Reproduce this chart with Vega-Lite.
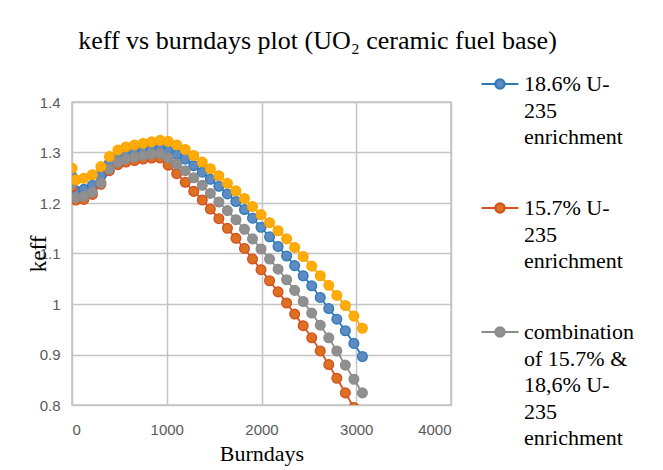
{
  "$schema": "https://vega.github.io/schema/vega-lite/v6.json",
  "width": 379,
  "height": 303,
  "autosize": {"type": "none"},
  "padding": {"left": 72, "top": 102, "right": 212, "bottom": 65},
  "background": "white",
  "title": {"text": "keff vs burndays plot (UO₂ ceramic fuel base)", "font": "Times New Roman", "fontSize": 26, "fontWeight": "normal"},
  "datasets": {
    "pts": [
      {"series": "18.6% U-235 enrichment", "day": 0, "k": 1.253}, {"series": "18.6% U-235 enrichment", "day": 40, "k": 1.224}, {"series": "18.6% U-235 enrichment", "day": 125, "k": 1.227}, {"series": "18.6% U-235 enrichment", "day": 215, "k": 1.235}, {"series": "18.6% U-235 enrichment", "day": 305, "k": 1.254}, {"series": "18.6% U-235 enrichment", "day": 395, "k": 1.279}, {"series": "18.6% U-235 enrichment", "day": 485, "k": 1.291}, {"series": "18.6% U-235 enrichment", "day": 570, "k": 1.297}, {"series": "18.6% U-235 enrichment", "day": 660, "k": 1.301}, {"series": "18.6% U-235 enrichment", "day": 750, "k": 1.304}, {"series": "18.6% U-235 enrichment", "day": 840, "k": 1.307}, {"series": "18.6% U-235 enrichment", "day": 930, "k": 1.308}, {"series": "18.6% U-235 enrichment", "day": 1015, "k": 1.303}, {"series": "18.6% U-235 enrichment", "day": 1105, "k": 1.296}, {"series": "18.6% U-235 enrichment", "day": 1195, "k": 1.287}, {"series": "18.6% U-235 enrichment", "day": 1285, "k": 1.274}, {"series": "18.6% U-235 enrichment", "day": 1375, "k": 1.261}, {"series": "18.6% U-235 enrichment", "day": 1460, "k": 1.247}, {"series": "18.6% U-235 enrichment", "day": 1550, "k": 1.233}, {"series": "18.6% U-235 enrichment", "day": 1640, "k": 1.218}, {"series": "18.6% U-235 enrichment", "day": 1730, "k": 1.203}, {"series": "18.6% U-235 enrichment", "day": 1820, "k": 1.187}, {"series": "18.6% U-235 enrichment", "day": 1905, "k": 1.170}, {"series": "18.6% U-235 enrichment", "day": 1995, "k": 1.152}, {"series": "18.6% U-235 enrichment", "day": 2085, "k": 1.133}, {"series": "18.6% U-235 enrichment", "day": 2175, "k": 1.114}, {"series": "18.6% U-235 enrichment", "day": 2265, "k": 1.095}, {"series": "18.6% U-235 enrichment", "day": 2350, "k": 1.076}, {"series": "18.6% U-235 enrichment", "day": 2440, "k": 1.056}, {"series": "18.6% U-235 enrichment", "day": 2530, "k": 1.036}, {"series": "18.6% U-235 enrichment", "day": 2620, "k": 1.013}, {"series": "18.6% U-235 enrichment", "day": 2710, "k": 0.991}, {"series": "18.6% U-235 enrichment", "day": 2795, "k": 0.970}, {"series": "18.6% U-235 enrichment", "day": 2885, "k": 0.947}, {"series": "18.6% U-235 enrichment", "day": 2975, "k": 0.922}, {"series": "18.6% U-235 enrichment", "day": 3065, "k": 0.896},
      {"series": "15.7% U-235 enrichment", "day": 0, "k": 1.232}, {"series": "15.7% U-235 enrichment", "day": 40, "k": 1.206}, {"series": "15.7% U-235 enrichment", "day": 125, "k": 1.207}, {"series": "15.7% U-235 enrichment", "day": 215, "k": 1.217}, {"series": "15.7% U-235 enrichment", "day": 305, "k": 1.237}, {"series": "15.7% U-235 enrichment", "day": 395, "k": 1.264}, {"series": "15.7% U-235 enrichment", "day": 485, "k": 1.276}, {"series": "15.7% U-235 enrichment", "day": 570, "k": 1.281}, {"series": "15.7% U-235 enrichment", "day": 660, "k": 1.284}, {"series": "15.7% U-235 enrichment", "day": 750, "k": 1.287}, {"series": "15.7% U-235 enrichment", "day": 840, "k": 1.289}, {"series": "15.7% U-235 enrichment", "day": 930, "k": 1.289}, {"series": "15.7% U-235 enrichment", "day": 1015, "k": 1.275}, {"series": "15.7% U-235 enrichment", "day": 1105, "k": 1.258}, {"series": "15.7% U-235 enrichment", "day": 1195, "k": 1.241}, {"series": "15.7% U-235 enrichment", "day": 1285, "k": 1.223}, {"series": "15.7% U-235 enrichment", "day": 1375, "k": 1.206}, {"series": "15.7% U-235 enrichment", "day": 1460, "k": 1.188}, {"series": "15.7% U-235 enrichment", "day": 1550, "k": 1.169}, {"series": "15.7% U-235 enrichment", "day": 1640, "k": 1.150}, {"series": "15.7% U-235 enrichment", "day": 1730, "k": 1.130}, {"series": "15.7% U-235 enrichment", "day": 1820, "k": 1.110}, {"series": "15.7% U-235 enrichment", "day": 1905, "k": 1.089}, {"series": "15.7% U-235 enrichment", "day": 1995, "k": 1.068}, {"series": "15.7% U-235 enrichment", "day": 2085, "k": 1.046}, {"series": "15.7% U-235 enrichment", "day": 2175, "k": 1.024}, {"series": "15.7% U-235 enrichment", "day": 2265, "k": 1.002}, {"series": "15.7% U-235 enrichment", "day": 2350, "k": 0.980}, {"series": "15.7% U-235 enrichment", "day": 2440, "k": 0.957}, {"series": "15.7% U-235 enrichment", "day": 2530, "k": 0.933}, {"series": "15.7% U-235 enrichment", "day": 2620, "k": 0.907}, {"series": "15.7% U-235 enrichment", "day": 2710, "k": 0.880}, {"series": "15.7% U-235 enrichment", "day": 2795, "k": 0.853}, {"series": "15.7% U-235 enrichment", "day": 2885, "k": 0.824}, {"series": "15.7% U-235 enrichment", "day": 2975, "k": 0.795}, {"series": "15.7% U-235 enrichment", "day": 3065, "k": 0.764},
      {"series": "combination of 15.7% & 18,6% U-235 enrichment", "day": 0, "k": 1.238}, {"series": "combination of 15.7% & 18,6% U-235 enrichment", "day": 40, "k": 1.211}, {"series": "combination of 15.7% & 18,6% U-235 enrichment", "day": 125, "k": 1.213}, {"series": "combination of 15.7% & 18,6% U-235 enrichment", "day": 215, "k": 1.222}, {"series": "combination of 15.7% & 18,6% U-235 enrichment", "day": 305, "k": 1.240}, {"series": "combination of 15.7% & 18,6% U-235 enrichment", "day": 395, "k": 1.267}, {"series": "combination of 15.7% & 18,6% U-235 enrichment", "day": 485, "k": 1.281}, {"series": "combination of 15.7% & 18,6% U-235 enrichment", "day": 570, "k": 1.287}, {"series": "combination of 15.7% & 18,6% U-235 enrichment", "day": 660, "k": 1.291}, {"series": "combination of 15.7% & 18,6% U-235 enrichment", "day": 750, "k": 1.294}, {"series": "combination of 15.7% & 18,6% U-235 enrichment", "day": 840, "k": 1.297}, {"series": "combination of 15.7% & 18,6% U-235 enrichment", "day": 930, "k": 1.298}, {"series": "combination of 15.7% & 18,6% U-235 enrichment", "day": 1015, "k": 1.289}, {"series": "combination of 15.7% & 18,6% U-235 enrichment", "day": 1105, "k": 1.277}, {"series": "combination of 15.7% & 18,6% U-235 enrichment", "day": 1195, "k": 1.264}, {"series": "combination of 15.7% & 18,6% U-235 enrichment", "day": 1285, "k": 1.250}, {"series": "combination of 15.7% & 18,6% U-235 enrichment", "day": 1375, "k": 1.235}, {"series": "combination of 15.7% & 18,6% U-235 enrichment", "day": 1460, "k": 1.219}, {"series": "combination of 15.7% & 18,6% U-235 enrichment", "day": 1550, "k": 1.202}, {"series": "combination of 15.7% & 18,6% U-235 enrichment", "day": 1640, "k": 1.185}, {"series": "combination of 15.7% & 18,6% U-235 enrichment", "day": 1730, "k": 1.167}, {"series": "combination of 15.7% & 18,6% U-235 enrichment", "day": 1820, "k": 1.148}, {"series": "combination of 15.7% & 18,6% U-235 enrichment", "day": 1905, "k": 1.129}, {"series": "combination of 15.7% & 18,6% U-235 enrichment", "day": 1995, "k": 1.109}, {"series": "combination of 15.7% & 18,6% U-235 enrichment", "day": 2085, "k": 1.089}, {"series": "combination of 15.7% & 18,6% U-235 enrichment", "day": 2175, "k": 1.069}, {"series": "combination of 15.7% & 18,6% U-235 enrichment", "day": 2265, "k": 1.048}, {"series": "combination of 15.7% & 18,6% U-235 enrichment", "day": 2350, "k": 1.027}, {"series": "combination of 15.7% & 18,6% U-235 enrichment", "day": 2440, "k": 1.005}, {"series": "combination of 15.7% & 18,6% U-235 enrichment", "day": 2530, "k": 0.982}, {"series": "combination of 15.7% & 18,6% U-235 enrichment", "day": 2620, "k": 0.958}, {"series": "combination of 15.7% & 18,6% U-235 enrichment", "day": 2710, "k": 0.933}, {"series": "combination of 15.7% & 18,6% U-235 enrichment", "day": 2795, "k": 0.907}, {"series": "combination of 15.7% & 18,6% U-235 enrichment", "day": 2885, "k": 0.879}, {"series": "combination of 15.7% & 18,6% U-235 enrichment", "day": 2975, "k": 0.851}, {"series": "combination of 15.7% & 18,6% U-235 enrichment", "day": 3065, "k": 0.824},
      {"series": "Series4", "day": 0, "k": 1.269}, {"series": "Series4", "day": 40, "k": 1.246}, {"series": "Series4", "day": 125, "k": 1.249}, {"series": "Series4", "day": 215, "k": 1.256}, {"series": "Series4", "day": 305, "k": 1.272}, {"series": "Series4", "day": 395, "k": 1.292}, {"series": "Series4", "day": 485, "k": 1.305}, {"series": "Series4", "day": 570, "k": 1.311}, {"series": "Series4", "day": 660, "k": 1.315}, {"series": "Series4", "day": 750, "k": 1.318}, {"series": "Series4", "day": 840, "k": 1.321}, {"series": "Series4", "day": 930, "k": 1.324}, {"series": "Series4", "day": 1015, "k": 1.322}, {"series": "Series4", "day": 1105, "k": 1.315}, {"series": "Series4", "day": 1195, "k": 1.306}, {"series": "Series4", "day": 1285, "k": 1.294}, {"series": "Series4", "day": 1375, "k": 1.281}, {"series": "Series4", "day": 1460, "k": 1.268}, {"series": "Series4", "day": 1550, "k": 1.254}, {"series": "Series4", "day": 1640, "k": 1.239}, {"series": "Series4", "day": 1730, "k": 1.224}, {"series": "Series4", "day": 1820, "k": 1.209}, {"series": "Series4", "day": 1905, "k": 1.193}, {"series": "Series4", "day": 1995, "k": 1.177}, {"series": "Series4", "day": 2085, "k": 1.161}, {"series": "Series4", "day": 2175, "k": 1.145}, {"series": "Series4", "day": 2265, "k": 1.129}, {"series": "Series4", "day": 2350, "k": 1.112}, {"series": "Series4", "day": 2440, "k": 1.094}, {"series": "Series4", "day": 2530, "k": 1.075}, {"series": "Series4", "day": 2620, "k": 1.056}, {"series": "Series4", "day": 2710, "k": 1.037}, {"series": "Series4", "day": 2795, "k": 1.017}, {"series": "Series4", "day": 2885, "k": 0.997}, {"series": "Series4", "day": 2975, "k": 0.976}, {"series": "Series4", "day": 3065, "k": 0.952}
    ]
  },
  "data": {"name": "pts"},
  "encoding": {
    "x": {"field": "day", "type": "quantitative", "title": "Burndays", "scale": {"domain": [0, 4000], "nice": false},
      "axis": {"values": [0, 1000, 2000, 3000, 4000], "format": "d", "grid": true, "gridColor": "#c4c4c4", "gridWidth": 1.5, "domain": false, "ticks": false, "labelFont": "Liberation Sans", "labelFontSize": 15, "labelColor": "#595959", "labelPadding": 17, "titleFont": "Liberation Serif", "titleFontSize": 22, "titleFontWeight": "normal", "titleColor": "#000000", "titlePadding": 6}},
    "y": {"field": "k", "type": "quantitative", "title": "keff", "scale": {"domain": [0.8, 1.4], "nice": false, "zero": false},
      "axis": {"values": [0.8, 0.9, 1, 1.1, 1.2, 1.3, 1.4], "format": "~g", "grid": true, "gridColor": "#c4c4c4", "gridWidth": 1.5, "domain": false, "ticks": false, "labelFont": "Liberation Sans", "labelFontSize": 15, "labelColor": "#595959", "labelPadding": 12, "titleFont": "Liberation Serif", "titleFontSize": 23, "titleFontWeight": "normal", "titleColor": "#000000", "titlePadding": -11}}
  },
  "layer": [
    {
      "mark": {"type": "line", "strokeWidth": 1.8, "clip": true},
      "encoding": {
        "stroke": {"field": "series", "type": "nominal",
          "scale": {"domain": ["18.6% U-235 enrichment", "15.7% U-235 enrichment", "combination of 15.7% & 18,6% U-235 enrichment", "Series4"], "range": ["#2a7ab9", "#d4501f", "#8c8c8c", "#ffa600"]},
          "legend": {"title": null, "orient": "none", "legendX": 408, "legendY": -38, "padding": 0,
            "values": ["18.6% U-235 enrichment", "15.7% U-235 enrichment", "combination of 15.7% & 18,6% U-235 enrichment"],
            "symbolType": "M-1,0H-0.25M0.25,0H1M0.25,0A0.25,0.25,0,1,1,-0.25,0A0.25,0.25,0,1,1,0.25,0Z",
            "symbolSize": 1369, "symbolStrokeWidth": 2.2,
            "labelLimit": 0, "labelOffset": 4, "labelBaseline": "top",
            "labelFont": "Times New Roman", "labelFontSize": 22, "labelColor": "#000000",
            "rowPadding": 40,
            "labelExpr": "datum.value == '18.6% U-235 enrichment' ? ['18.6% U-', '235', 'enrichment'] : datum.value == '15.7% U-235 enrichment' ? ['15.7% U-', '235', 'enrichment'] : ['combination', 'of 15.7% &', '18,6% U-', '235', 'enrichment']",
            "encode": {"labels": {"update": {"lineHeight": {"value": 26.5}, "dy": {"value": -10}}}}}
        }
      }
    },
    {
      "mark": {"type": "point", "filled": true, "size": 95, "strokeWidth": 1.3, "opacity": 1, "clip": true},
      "encoding": {
        "fill": {"field": "series", "type": "nominal",
          "scale": {"domain": ["18.6% U-235 enrichment", "15.7% U-235 enrichment", "combination of 15.7% & 18,6% U-235 enrichment", "Series4"], "range": ["#5f8bc2", "#dd7122", "#909090", "#ffab0a"]},
          "legend": {"title": null, "orient": "none", "legendX": 408, "legendY": -38, "padding": 0,
            "values": ["18.6% U-235 enrichment", "15.7% U-235 enrichment", "combination of 15.7% & 18,6% U-235 enrichment"],
            "symbolType": "M-1,0H-0.25M0.25,0H1M0.25,0A0.25,0.25,0,1,1,-0.25,0A0.25,0.25,0,1,1,0.25,0Z",
            "symbolSize": 1369, "symbolStrokeWidth": 2.2,
            "labelLimit": 0, "labelOffset": 4, "labelBaseline": "top",
            "labelFont": "Times New Roman", "labelFontSize": 22, "labelColor": "#000000",
            "rowPadding": 40,
            "labelExpr": "datum.value == '18.6% U-235 enrichment' ? ['18.6% U-', '235', 'enrichment'] : datum.value == '15.7% U-235 enrichment' ? ['15.7% U-', '235', 'enrichment'] : ['combination', 'of 15.7% &', '18,6% U-', '235', 'enrichment']",
            "encode": {"labels": {"update": {"lineHeight": {"value": 26.5}, "dy": {"value": -10}}}}}
        },
        "stroke": {"field": "series", "type": "nominal"}
      }
    }
  ],
  "config": {
    "view": {"stroke": "#c4c4c4", "strokeWidth": 1.5},
    "title": {"font": "Times New Roman", "fontSize": 26, "fontWeight": "normal", "color": "#000000", "anchor": "middle", "frame": "group", "dx": 56, "offset": 10},
    "legend": {"labelFont": "Times New Roman", "labelFontSize": 22, "labelColor": "#000000"}
  }
}
